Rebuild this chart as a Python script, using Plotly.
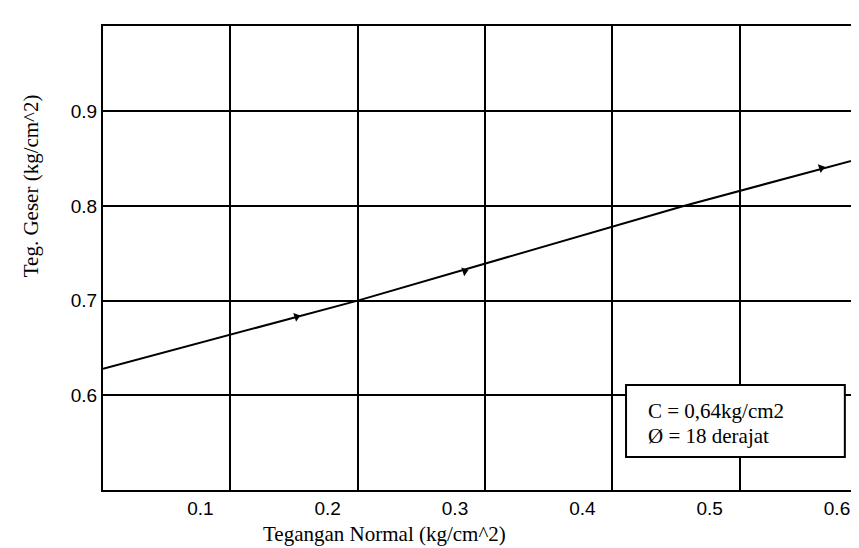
import plotly.graph_objects as go

# Data
line_x = [0.0, 0.2, 0.456, 0.6]
line_y = [0.628, 0.700, 0.800, 0.852]
mark_x = [0.152, 0.284, 0.564]
mark_y = [0.683, 0.731, 0.840]

x_ticks = [0.1, 0.2, 0.3, 0.4, 0.5, 0.6]
x_labels = ["0.1", "0.2", "0.3", "0.4", "0.5", "0.6"]
y_ticks = [0.6, 0.7, 0.8, 0.9]
y_labels = ["0.6", "0.7", "0.8", "0.9"]

box_lines = ["C = 0,64kg/cm2", "Ø = 18 derajat"]
x_title = "Tegangan Normal (kg/cm^2)"
y_title = "Teg. Geser (kg/cm^2)"

fig = go.Figure()
fig.add_trace(go.Scatter(x=line_x, y=line_y, mode="lines",
                         line=dict(color="black", width=2), showlegend=False,
                         hoverinfo="skip"))
fig.add_trace(go.Scatter(x=mark_x, y=mark_y, mode="markers",
                         marker=dict(symbol="triangle-right", size=8, angle=-18,
                                     color="black"),
                         showlegend=False, hoverinfo="skip"))

tick_font = dict(family="Liberation Sans, Arial, sans-serif", size=19, color="black")
serif = "Liberation Serif, Times New Roman, serif"

fig.update_layout(
    width=859, height=548,
    margin=dict(l=95, r=0, t=18, b=66, autoexpand=False),
    paper_bgcolor="white", plot_bgcolor="white",
    xaxis=dict(range=[0.0, 0.6], tickvals=x_ticks, ticktext=x_labels,
               showgrid=True, gridcolor="black", gridwidth=1.5,
               showline=True, linecolor="black", linewidth=2, mirror=True,
               ticks="", tickfont=tick_font, ticklabelshift=-30,
               zeroline=False, automargin=False),
    yaxis=dict(range=[0.5, 0.99], tickvals=y_ticks, ticktext=y_labels,
               showgrid=True, gridcolor="black", gridwidth=1.5,
               showline=True, linecolor="black", linewidth=2, mirror=False,
               ticks="", tickfont=tick_font, zeroline=False, automargin=False),
    shapes=[dict(type="rect", xref="paper", yref="paper",
                 x0=0.6846, x1=0.971, y0=0.0711, y1=0.2263,
                 line=dict(color="black", width=2), fillcolor="white",
                 layer="above")],
    annotations=[
        dict(text=box_lines[0], xref="paper", yref="paper", x=0.7107, y=0.170,
             xanchor="left", yanchor="middle", showarrow=False,
             font=dict(family=serif, size=21, color="black")),
        dict(text=box_lines[1], xref="paper", yref="paper", x=0.7107, y=0.116,
             xanchor="left", yanchor="middle", showarrow=False,
             font=dict(family=serif, size=21, color="black")),
        dict(text=x_title, xref="paper", yref="paper", x=0.369, y=-0.094,
             xanchor="center", yanchor="middle", showarrow=False,
             font=dict(family=serif, size=21, color="black")),
        dict(text=y_title, xref="paper", yref="paper", x=-0.094, y=0.655,
             xanchor="center", yanchor="middle", showarrow=False, textangle=-90,
             font=dict(family=serif, size=21, color="black")),
    ],
)

fig.write_html("out.html")
